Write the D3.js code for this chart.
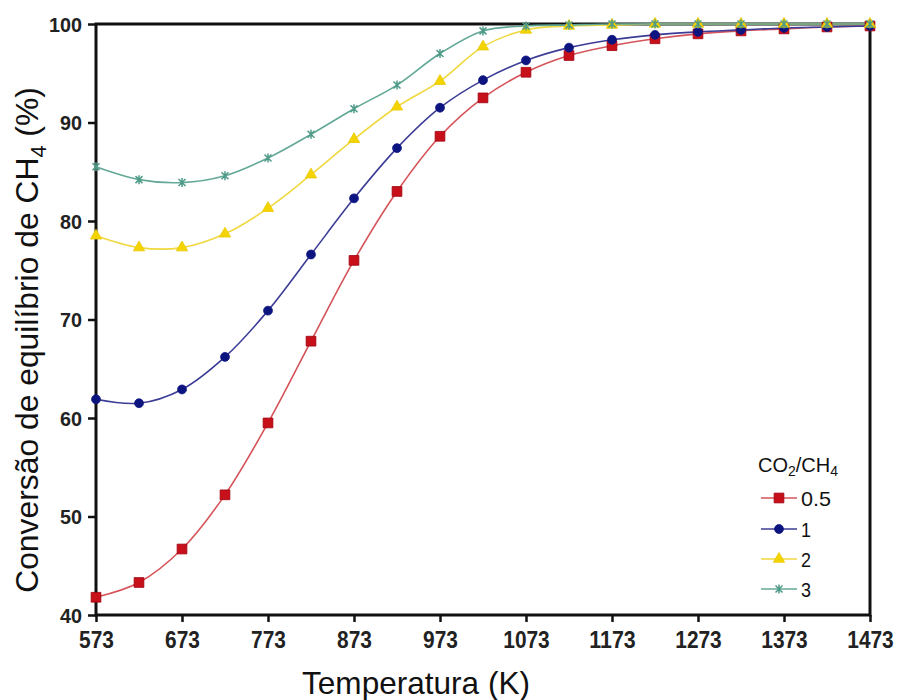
<!DOCTYPE html>
<html><head><meta charset="utf-8">
<script src="https://cdn.jsdelivr.net/npm/d3@7"></script>
<style>
body{margin:0;background:#fff;}
svg{display:block;}
</style></head>
<body><svg id="chart" width="899" height="700"></svg>
<script>
const temperatures = [573,623,673,723,773,823,873,923,973,1023,1073,1123,1173,1223,1273,1323,1373,1423,1473];
const ratio05 = [41.8,43.3,46.7,52.2,59.5,67.8,76.0,83.0,88.6,92.5,95.1,96.8,97.8,98.5,99.0,99.3,99.5,99.7,99.8];
const ratio1  = [61.9,61.5,62.9,66.2,70.9,76.6,82.3,87.4,91.5,94.3,96.3,97.6,98.4,98.9,99.2,99.4,99.6,99.7,99.8];
const ratio2  = [78.5,77.3,77.3,78.7,81.3,84.7,88.3,91.6,94.2,97.7,99.4,99.8,99.9,100,100,100,100,100,100];
const ratio3  = [85.5,84.2,83.9,84.6,86.4,88.8,91.4,93.8,97.0,99.3,99.8,99.9,100,100,100,100,100,100,100];
const seriesNames = ["0.5","1","2","3"];
const xTicks = [573,673,773,873,973,1073,1173,1273,1373,1473];
const yTicks = [40,50,60,70,80,90,100];

const series = [
  {name:seriesNames[0], values:ratio05, line:"#d4545a", fill:"#c8101a", stroke:"#a00010", marker:"square"},
  {name:seriesNames[1], values:ratio1,  line:"#3c3c96", fill:"#0c1480", stroke:"#0c1480", marker:"circle"},
  {name:seriesNames[2], values:ratio2,  line:"#f0d840", fill:"#f4d400", stroke:"#e8c800", marker:"triangle"},
  {name:seriesNames[3], values:ratio3,  line:"#62a896", fill:"#4e9a88", stroke:"#4e9a88", marker:"star"}
];

const svg = d3.select("#chart");
const x = d3.scaleLinear().domain([573,1473]).range([96,870]);
const y = d3.scaleLinear().domain([40,100]).range([615,24]);

const sans = "'Liberation Sans',Arial,sans-serif";

// frame
svg.append("rect").attr("x",x(573)).attr("y",y(100)).attr("width",x(1473)-x(573)).attr("height",y(40)-y(100))
  .attr("fill","none").attr("stroke","#111").attr("stroke-width",3);

// axes
const xAxis = svg.append("g").attr("transform",`translate(0,${y(40)})`)
  .call(d3.axisBottom(x).tickValues(xTicks).tickSize(7).tickPadding(12).tickFormat(d3.format("d")));
const yAxis = svg.append("g").attr("transform",`translate(${x(573)},0)`)
  .call(d3.axisLeft(y).tickValues(yTicks).tickSize(8).tickPadding(6).tickFormat(d3.format("d")));
[xAxis,yAxis].forEach(g=>{
  g.select(".domain").remove();
  g.selectAll(".tick line").attr("stroke","#111").attr("stroke-width",2.5);
  g.selectAll(".tick text").attr("fill","#222").style("font-family",sans)
    .style("font-weight","bold").attr("lengthAdjust","spacingAndGlyphs");
});
xAxis.selectAll(".tick text").style("font-size","23px").attr("textLength",d=>String(d).length*11.6).attr("dy","0.62em");
yAxis.selectAll(".tick text").style("font-size","20px").attr("textLength",d=>String(d).length*11).attr("dy","0.36em");

// lines
const line = d3.line().x((d,i)=>x(temperatures[i])).y(d=>y(d)).curve(d3.curveCatmullRom.alpha(0.5));
const starPath = "M-3.5,-3.5L3.5,3.5M-3.5,3.5L3.5,-3.5M0,-4.5L0,4.5";
const markerSym = {
  square: d3.symbol().type(d3.symbolSquare).size(95)(),
  circle: d3.symbol().type(d3.symbolCircle).size(62)(),
  triangle: d3.symbol().type(d3.symbolTriangle).size(55)(),
  star: starPath
};
series.forEach(s=>{
  svg.append("path").attr("d",line(s.values)).attr("fill","none").attr("stroke",s.line).attr("stroke-width",1.6);
});
series.forEach(s=>{
  const g = svg.append("g");
  g.selectAll("path").data(s.values).join("path")
    .attr("transform",(d,i)=>`translate(${x(temperatures[i])},${y(d)})`)
    .attr("d",markerSym[s.marker])
    .attr("fill", s.marker==="star" ? "none" : s.fill)
    .attr("stroke", s.stroke).attr("stroke-width", s.marker==="star" ? 1.5 : 0.8);
});

// legend
const leg = svg.append("g").attr("transform","translate(757,0)");
const lt = leg.append("text").attr("x",1).attr("y",472).style("font-family",sans)
  .style("font-size","20px").attr("fill","#111");
lt.append("tspan").text("CO");
lt.append("tspan").text("2").attr("dy",4).style("font-size","14px");
lt.append("tspan").text("/CH").attr("dy",-4);
lt.append("tspan").text("4").attr("dy",4).style("font-size","14px");
const legY = [498,529,559,589];
series.forEach((s,i)=>{
  leg.append("line").attr("x1",4).attr("x2",40).attr("y1",legY[i]).attr("y2",legY[i]).attr("stroke",s.line).attr("stroke-width",1.6);
  leg.append("path").attr("transform",`translate(22,${legY[i]})`).attr("d",markerSym[s.marker])
    .attr("fill", s.marker==="star" ? "none" : s.fill).attr("stroke",s.stroke).attr("stroke-width", s.marker==="star"?1.5:0.8);
  leg.append("text").attr("x",44).attr("y",legY[i]).attr("dy","0.36em").text(s.name)
    .style("font-family",sans).style("font-size","21px").attr("fill","#111")
    .attr("lengthAdjust","spacingAndGlyphs").attr("textLength",s.name.length*10);
});

// titles (fitted to the reference extents)
function fitFont(textSel, base, targetWidth){
  const w = textSel.node().getBBox().width;
  const f = base*targetWidth/w;
  textSel.style("font-size",f+"px");
  textSel.selectAll("tspan.sub").style("font-size",(f*0.68)+"px").attr("dy",function(){return +d3.select(this).attr("data-s")*f*0.24;});
  textSel.selectAll("tspan.back").attr("dy",-f*0.24);
}
const xt = svg.append("text").attr("x",416).attr("y",694).attr("text-anchor","middle")
  .style("font-family",sans).style("font-size","32px").attr("fill","#111").text("Temperatura (K)");
fitFont(xt,32,228);
const yt = svg.append("text").attr("transform","translate(38,340) rotate(-90)").attr("text-anchor","middle")
  .style("font-family",sans).style("font-size","29px").attr("fill","#111");
yt.append("tspan").text("Conversão de equilíbrio de CH");
yt.append("tspan").attr("class","sub").attr("data-s",1).text("4").attr("dy",7).style("font-size","20px");
yt.append("tspan").attr("class","back").text(" (%)").attr("dy",-7);
fitFont(yt,29,506);
</script></body></html>
